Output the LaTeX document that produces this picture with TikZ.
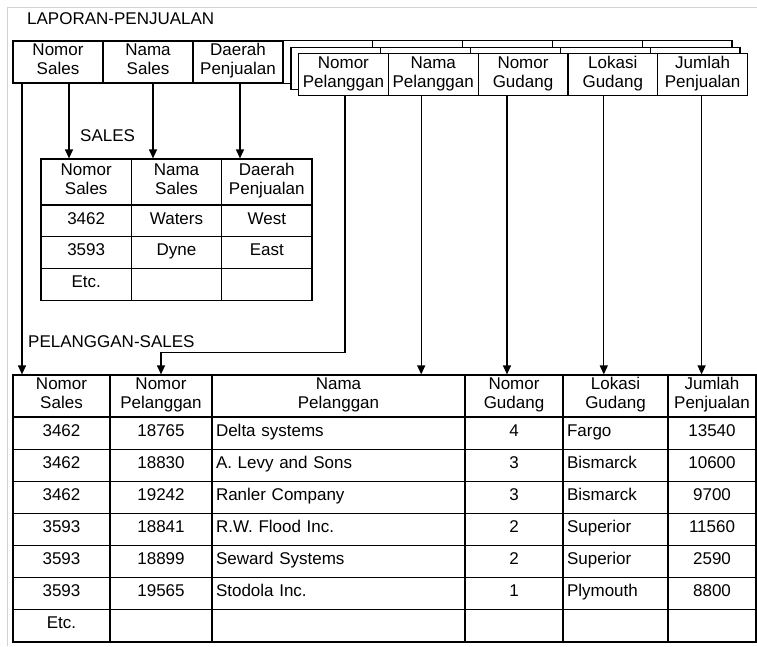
\documentclass[tikz,border=0pt]{standalone}
\usepackage{fontspec}
\setmainfont{Liberation Sans}
\usetikzlibrary{arrows.meta}

\tikzset{
  cell/.style={draw, line width=1.2pt, inner sep=0pt, align=center,
    font=\fontsize{17}{19}\selectfont},
  lap/.style={cell, minimum width=90pt, minimum height=42pt},
  lyr/.style={cell, fill=white, minimum width=89.8pt, minimum height=42.5pt},
  shd/.style={cell, minimum width=90.3pt, minimum height=46pt},
  sdat/.style={cell, minimum width=90.3pt, minimum height=31.7pt,
    text height=12.5pt, text depth=6.5pt},
  phd/.style={cell, minimum height=42pt},
  pdat/.style={cell, minimum height=32.14pt, text height=12.5pt, text depth=6.5pt},
  wns/.style={minimum width=97pt},
  wnp/.style={minimum width=102pt},
  wnm/.style={minimum width=253pt},
  wng/.style={minimum width=98pt},
  wlg/.style={minimum width=105pt},
  wjp/.style={minimum width=88pt},
  lnm/.style={wnm, text width=245pt, align=left},
  llg/.style={wlg, text width=97pt, align=left},
  title/.style={inner sep=0pt, anchor=west, font=\fontsize{17}{19}\selectfont},
  arr/.style={line width=1.2pt, -{Triangle[length=9pt,width=8pt]}}
}

\begin{document}
\begin{tikzpicture}[x=1pt,y=-1pt]
  \useasboundingbox (0,0) rectangle (757,646);
  \draw[gray!35, line width=0.8pt] (757,7) -- (7,7) -- (7,646);

  % laporan penjualan
  \node[title] (tlap) at (27,19) {LAPORAN-PENJUALAN};
  \node[lap] (l1) at (58,62) {Nomor\\Sales\strut};
  \node[lap] (l2) at (148,62) {Nama\\Sales\strut};
  \node[lap] (l3) at (238,62) {Daerah\\Penjualan\strut};
  \node[lyr] (b1) at (327.9,62) {};
  \node[lyr] (b2) at (417.7,62) {};
  \node[lyr] (b3) at (507.5,62) {};
  \node[lyr] (b4) at (597.3,62) {};
  \node[lyr] (b5) at (687.1,62) {};
  \node[lyr] (m1) at (335.9,68.5) {};
  \node[lyr] (m2) at (425.7,68.5) {};
  \node[lyr] (m3) at (515.5,68.5) {};
  \node[lyr] (m4) at (605.3,68.5) {};
  \node[lyr] (m5) at (695.1,68.5) {};
  \node[lyr] (f1) at (343.4,74.5) {Nomor\\Pelanggan\strut};
  \node[lyr] (f2) at (433.2,74.5) {Nama\\Pelanggan\strut};
  \node[lyr] (f3) at (523,74.5) {Nomor\\Gudang\strut};
  \node[lyr] (f4) at (612.8,74.5) {Lokasi\\Gudang\strut};
  \node[lyr] (f5) at (702.6,74.5) {Jumlah\\Penjualan\strut};

  % sales
  \node[title] (tsal) at (80,136) {SALES};
  \node[shd] (s01) at (86.2,182) {Nomor\\Sales\strut};
  \node[shd] (s02) at (176.5,182) {Nama\\Sales\strut};
  \node[shd] (s03) at (266.8,182) {Daerah\\Penjualan\strut};
  \node[sdat] (s11) at (86.2,221) {3462};
  \node[sdat] (s12) at (176.5,221) {Waters};
  \node[sdat] (s13) at (266.8,221) {West};
  \node[sdat] (s21) at (86.2,252.7) {3593};
  \node[sdat] (s22) at (176.5,252.7) {Dyne};
  \node[sdat] (s23) at (266.8,252.7) {East};
  \node[sdat] (s31) at (86.2,284.4) {Etc.};
  \node[sdat] (s32) at (176.5,284.4) {};
  \node[sdat] (s33) at (266.8,284.4) {};

  % pelanggan-sales
  \node[title] (tpel) at (28,341.5) {PELANGGAN-SALES};
  \node[phd,wns] (p01) at (61.5,396) {Nomor\\Sales\strut};
  \node[phd,wnp] (p02) at (161,396) {Nomor\\Pelanggan\strut};
  \node[phd,wnm] (p03) at (338.5,396) {Nama\\Pelanggan\strut};
  \node[phd,wng] (p04) at (514,396) {Nomor\\Gudang\strut};
  \node[phd,wlg] (p05) at (615.5,396) {Lokasi\\Gudang\strut};
  \node[phd,wjp] (p06) at (712,396) {Jumlah\\Penjualan\strut};

  \node[pdat,wns] (p11) at (61.5,433.07) {3462};
  \node[pdat,wnp] (p12) at (161,433.07) {18765};
  \node[pdat,lnm] (p13) at (338.5,433.07) {Delta systems};
  \node[pdat,wng] (p14) at (514,433.07) {4};
  \node[pdat,llg] (p15) at (615.5,433.07) {Fargo};
  \node[pdat,wjp] (p16) at (712,433.07) {13540};

  \node[pdat,wns] (p21) at (61.5,465.21) {3462};
  \node[pdat,wnp] (p22) at (161,465.21) {18830};
  \node[pdat,lnm] (p23) at (338.5,465.21) {A. Levy and Sons};
  \node[pdat,wng] (p24) at (514,465.21) {3};
  \node[pdat,llg] (p25) at (615.5,465.21) {Bismarck};
  \node[pdat,wjp] (p26) at (712,465.21) {10600};

  \node[pdat,wns] (p31) at (61.5,497.36) {3462};
  \node[pdat,wnp] (p32) at (161,497.36) {19242};
  \node[pdat,lnm] (p33) at (338.5,497.36) {Ranler Company};
  \node[pdat,wng] (p34) at (514,497.36) {3};
  \node[pdat,llg] (p35) at (615.5,497.36) {Bismarck};
  \node[pdat,wjp] (p36) at (712,497.36) {9700};

  \node[pdat,wns] (p41) at (61.5,529.5) {3593};
  \node[pdat,wnp] (p42) at (161,529.5) {18841};
  \node[pdat,lnm] (p43) at (338.5,529.5) {R.W. Flood Inc.};
  \node[pdat,wng] (p44) at (514,529.5) {2};
  \node[pdat,llg] (p45) at (615.5,529.5) {Superior};
  \node[pdat,wjp] (p46) at (712,529.5) {11560};

  \node[pdat,wns] (p51) at (61.5,561.64) {3593};
  \node[pdat,wnp] (p52) at (161,561.64) {18899};
  \node[pdat,lnm] (p53) at (338.5,561.64) {Seward Systems};
  \node[pdat,wng] (p54) at (514,561.64) {2};
  \node[pdat,llg] (p55) at (615.5,561.64) {Superior};
  \node[pdat,wjp] (p56) at (712,561.64) {2590};

  \node[pdat,wns] (p61) at (61.5,593.79) {3593};
  \node[pdat,wnp] (p62) at (161,593.79) {19565};
  \node[pdat,lnm] (p63) at (338.5,593.79) {Stodola Inc.};
  \node[pdat,wng] (p64) at (514,593.79) {1};
  \node[pdat,llg] (p65) at (615.5,593.79) {Plymouth};
  \node[pdat,wjp] (p66) at (712,593.79) {8800};

  \node[pdat,wns] (p71) at (61.5,625.93) {Etc.};
  \node[pdat,wnp] (p72) at (161,625.93) {};
  \node[pdat,lnm] (p73) at (338.5,625.93) {};
  \node[pdat,wng] (p74) at (514,625.93) {};
  \node[pdat,llg] (p75) at (615.5,625.93) {};
  \node[pdat,wjp] (p76) at (712,625.93) {};

  \begin{scope}[arr]
    \draw ([xshift=-36pt]l1.south) -- ([xshift=-36pt]l1.south |- p01.north);
    \draw ([xshift=11pt]l1.south) -- ([xshift=11pt]l1.south |- s01.north);
    \draw ([xshift=5pt]l2.south) -- ([xshift=5pt]l2.south |- s02.north);
    \draw ([xshift=2pt]l3.south) -- ([xshift=2pt]l3.south |- s03.north);
    \draw ([xshift=1.5pt]f1.south) |- ([yshift=22pt]p02.north) -- (p02.north);
    \draw ([xshift=-12pt]f2.south) -- ([xshift=-12pt]f2.south |- p03.north);
    \draw ([xshift=-16pt]f3.south) -- ([xshift=-16pt]f3.south |- p04.north);
    \draw ([xshift=-9pt]f4.south) -- ([xshift=-9pt]f4.south |- p05.north);
    \draw ([xshift=-1pt]f5.south) -- ([xshift=-1pt]f5.south |- p06.north);
  \end{scope}
\end{tikzpicture}
\end{document}
